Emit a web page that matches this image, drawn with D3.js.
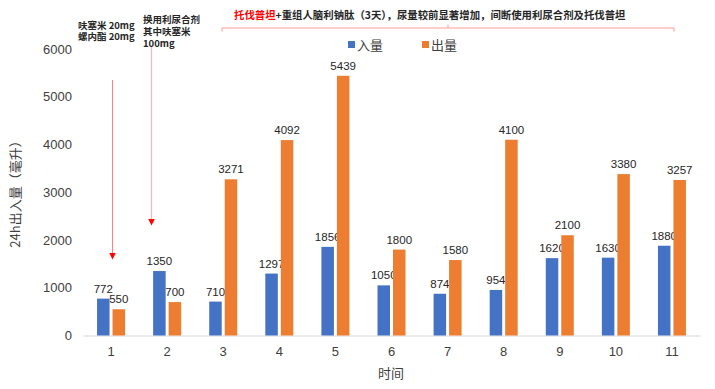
<!DOCTYPE html>
<html lang="zh">
<head>
<meta charset="UTF-8">
<title>24h出入量</title>
<script src="https://cdn.jsdelivr.net/npm/d3@7"></script>
<style>
  body { margin: 0; background: #fff; }
  text { font-family: "Liberation Sans", Arial, sans-serif; }
  .cjk { font-family: "Noto Sans CJK SC", sans-serif; }
</style>
</head>
<body>
<script>
var w = 715, h = 389;

// data
var days = ["1", "2", "3", "4", "5", "6", "7", "8", "9", "10", "11"];
var intake = [772, 1350, 710, 1297, 1856, 1050, 874, 954, 1620, 1630, 1880];
var output = [550, 700, 3271, 4092, 5439, 1800, 1580, 4100, 2100, 3380, 3257];
var seriesNames = ["入量", "出量"];
var yTicks = [0, 1000, 2000, 3000, 4000, 5000, 6000];

var colors = ["#4472C4", "#ED7D31"];

var svg = d3.select("body").append("svg")
    .attr("width", w)
    .attr("height", h);

var x = d3.scaleBand()
    .domain(days)
    .range([83, 700]);

var y = d3.scaleLinear()
    .domain([0, 6000])
    .range([335.5, 49]);

// y tick labels (no axis line)
svg.selectAll(".ytick")
    .data(yTicks)
    .enter()
    .append("text")
    .attr("x", 72)
    .attr("y", function(d) { return y(d); })
    .attr("dy", "0.35em")
    .attr("text-anchor", "end")
    .attr("font-size", 13)
    .attr("fill", "#404040")
    .text(function(d) { return d; });

// x axis
var xAxis = svg.append("g")
    .attr("transform", "translate(0," + y(0) + ")")
    .call(d3.axisBottom(x).tickSize(0).tickPadding(11));
xAxis.select(".domain").attr("stroke", "#d9d9d9").attr("stroke-width", 1);
xAxis.selectAll("text")
    .attr("font-size", 13)
    .attr("fill", "#404040")
    .style("font-family", "Liberation Sans, Arial, sans-serif");

var bw = 12.5, gap = 3;
var groups = [
  { vals: intake, off: -gap / 2 - bw, color: colors[0] },
  { vals: output, off: gap / 2, color: colors[1] }
];

groups.forEach(function(g) {
  svg.selectAll(null)
      .data(days)
      .enter()
      .append("rect")
      .attr("x", function(d) { return x(d) + x.bandwidth() / 2 + g.off; })
      .attr("y", function(d, i) { return y(g.vals[i]); })
      .attr("width", bw)
      .attr("height", function(d, i) { return y(0) - y(g.vals[i]); })
      .attr("fill", g.color);

  svg.selectAll(null)
      .data(days)
      .enter()
      .append("text")
      .attr("x", function(d) { return x(d) + x.bandwidth() / 2 + g.off + bw / 2; })
      .attr("y", function(d, i) { return y(g.vals[i]) - 6; })
      .attr("text-anchor", "middle")
      .attr("font-size", 11.5)
      .attr("fill", "#262626")
      .text(function(d, i) { return g.vals[i]; });
});

// axis titles
svg.append("text")
    .attr("class", "cjk")
    .attr("transform", "translate(20,191) rotate(-90)")
    .attr("text-anchor", "middle")
    .attr("font-size", 13)
    .attr("fill", "#404040")
    .text("24h出入量（毫升）");

svg.append("text")
    .attr("class", "cjk")
    .attr("x", 391)
    .attr("y", 378)
    .attr("text-anchor", "middle")
    .attr("font-size", 13)
    .attr("fill", "#404040")
    .text("时间");

// legend
var leg = svg.selectAll(".leg")
    .data(seriesNames)
    .enter()
    .append("g")
    .attr("transform", function(d, i) { return "translate(" + (348 + i * 74) + ",45)"; });
leg.append("rect")
    .attr("x", 0).attr("y", -4)
    .attr("width", 7).attr("height", 7)
    .attr("fill", function(d, i) { return colors[i]; });
leg.append("text")
    .attr("class", "cjk")
    .attr("x", 9)
    .attr("y", 0)
    .attr("dy", "0.35em")
    .attr("font-size", 13)
    .attr("fill", "#404040")
    .text(function(d) { return d; });

// arrows
var defs = svg.append("defs");
defs.append("marker")
    .attr("id", "arr")
    .attr("viewBox", "0 0 10 10")
    .attr("refX", 5).attr("refY", 5)
    .attr("markerWidth", 7).attr("markerHeight", 7)
    .attr("markerUnits", "userSpaceOnUse")
    .attr("orient", "auto")
    .append("path")
    .attr("d", "M0,0 L10,5 L0,10 Z")
    .attr("fill", "#ff0000");

svg.append("line")
    .attr("x1", 112.5).attr("y1", 80)
    .attr("x2", 112.5).attr("y2", 256)
    .attr("stroke", "#ff8080").attr("stroke-width", 1)
    .attr("marker-end", "url(#arr)");
svg.append("line")
    .attr("x1", 151.5).attr("y1", 46)
    .attr("x2", 151.5).attr("y2", 222)
    .attr("stroke", "#ffb3b3").attr("stroke-width", 1.2)
    .attr("marker-end", "url(#arr)");

// annotations
var notes1 = ["呋塞米 20mg", "螺内酯 20mg"];
var notes2 = ["换用利尿合剂", "其中呋塞米", "100mg"];
svg.selectAll(null).data(notes1).enter().append("text")
    .attr("class", "cjk")
    .attr("x", 78).attr("y", function(d, i) { return 28.5 + i * 11.5; })
    .attr("font-size", 9.5).attr("font-weight", "bold").attr("fill", "#262626")
    .text(function(d) { return d; });
svg.selectAll(null).data(notes2).enter().append("text")
    .attr("class", "cjk")
    .attr("x", 143).attr("y", function(d, i) { return 22.5 + i * 12; })
    .attr("font-size", 9.5).attr("font-weight", "bold").attr("fill", "#262626")
    .text(function(d) { return d; });

// bracket
svg.append("path")
    .attr("d", "M222,31.5 L222,28 L674,28 L674,31.5 M448,28 L448,24.5")
    .attr("fill", "none")
    .attr("stroke", "#ff9999")
    .attr("stroke-width", 1);

var topNote = svg.append("text")
    .attr("class", "cjk")
    .attr("x", 234).attr("y", 19)
    .attr("font-size", 10.4).attr("font-weight", "bold");
topNote.append("tspan").attr("fill", "#ff0000").text("托伐普坦");
topNote.append("tspan").attr("fill", "#262626").text("+重组人脑利钠肽（3天），尿量较前显著增加，间断使用利尿合剂及托伐普坦");
</script>
</body>
</html>
